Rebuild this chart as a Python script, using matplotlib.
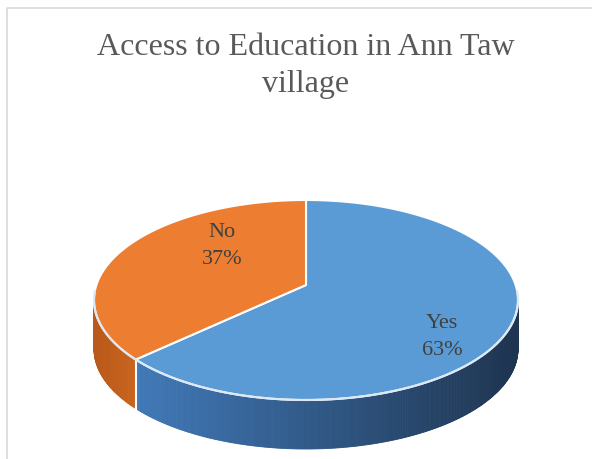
import numpy as np
import matplotlib.pyplot as plt
import matplotlib.colors as mcolors
from matplotlib.patches import Polygon

# dados do gráfico
categorias = ['Yes', 'No']
valores = [63, 37]
cores_topo = ['#5B9BD5', '#ED7D31']
cores_lado = [('#4079b8', '#1e3450'), ('#b9591a', '#c9641e')]
titulo = 'Access to Education in Ann Taw\nvillage'

# geometria da pizza 3D (em pixels), com leve perspectiva
cx, cy = 306, 285
A, B = 209.6, 97.75
k = 0.15          # fator de perspectiva (fundo menor que a frente)
profund = 49

def ponto(t, dy=0.0):
    t = np.radians(t)
    w = 1 + k * np.sin(t)
    return cx + A * np.cos(t) / w, cy - B * np.sin(t) / w + dy

fig = plt.figure(figsize=(5.92, 4.59), dpi=100)
ax = fig.add_axes([0, 0, 1, 1])
ax.set_xlim(0, 592)
ax.set_ylim(459, 0)
ax.axis('off')

# moldura do gráfico
ax.plot([7, 7, 592], [459, 8, 8], color='#d9d9d9', lw=1.2)

# ângulos das fatias (sentido horário a partir das 12h)
fracoes = np.array(valores) / sum(valores)
inicio = 90.0
angulos = []
for f in fracoes:
    fim = inicio - 360 * f
    angulos.append((fim, inicio))
    inicio = fim

# lateral: visível entre os pontos extremos esquerdo e direito
t_sil = np.degrees(np.arcsin(k))
vis_lo, vis_hi = -180 + t_sil, -t_sil

for (lo0, hi0), (c1, c2) in zip(angulos, cores_lado):
    c_esq = np.array(mcolors.to_rgb(c1))
    c_dir = np.array(mcolors.to_rgb(c2))
    for desl in (-360, 0, 360):
        lo, hi = max(lo0 + desl, vis_lo), min(hi0 + desl, vis_hi)
        if hi <= lo:
            continue
        x_esq, x_dir = ponto(lo)[0], ponto(hi)[0]
        n = max(int((hi - lo) * 2), 2)
        ts = np.linspace(lo, hi, n + 1)
        for i in range(n):
            tt = np.linspace(ts[i], ts[i + 1], 4)
            xm = ponto((ts[i] + ts[i + 1]) / 2)[0]
            frac = (xm - x_esq) / (x_dir - x_esq)
            c = tuple(c_esq * (1 - frac) + c_dir * frac)
            topo = [ponto(t) for t in tt]
            base = [ponto(t, profund) for t in tt[::-1]]
            ax.add_patch(Polygon(topo + base, closed=True, facecolor=c,
                                 edgecolor=c, lw=0.6))

# linhas brancas entre as fatias na lateral
for lo0, hi0 in angulos:
    for t in (lo0, lo0 + 360):
        if vis_lo < t < vis_hi:
            x0, y0 = ponto(t)
            ax.plot([x0, x0], [y0, y0 + profund], color='white', lw=1.5)

# topo
for cor, (t0, t1) in zip(cores_topo, angulos):
    tt = np.linspace(t0, t1, 200)
    pts = [(cx, cy)] + [ponto(t) for t in tt]
    ax.add_patch(Polygon(pts, closed=True, facecolor=cor,
                         edgecolor='white', lw=1.5, joinstyle='round'))

# borda clara na frente do topo
tt = np.linspace(vis_lo - 5, vis_hi + 5, 200)
ax.plot([ponto(t)[0] for t in tt], [ponto(t)[1] for t in tt],
        color='#dbe8f5', lw=1.5)

# rótulos
fonte = 'Liberation Serif'
ax.text(222, 246, 'No\n37%', ha='center', va='center', fontsize=16,
        family=fonte, color='#404040', linespacing=1.6)
ax.text(442, 337, 'Yes\n63%', ha='center', va='center', fontsize=16,
        family=fonte, color='#404040', linespacing=1.6)

ax.text(306, 66, titulo, ha='center', va='center', fontsize=23,
        family=fonte, color='#595959', linespacing=1.32)

fig.savefig('out.png', dpi=100)
